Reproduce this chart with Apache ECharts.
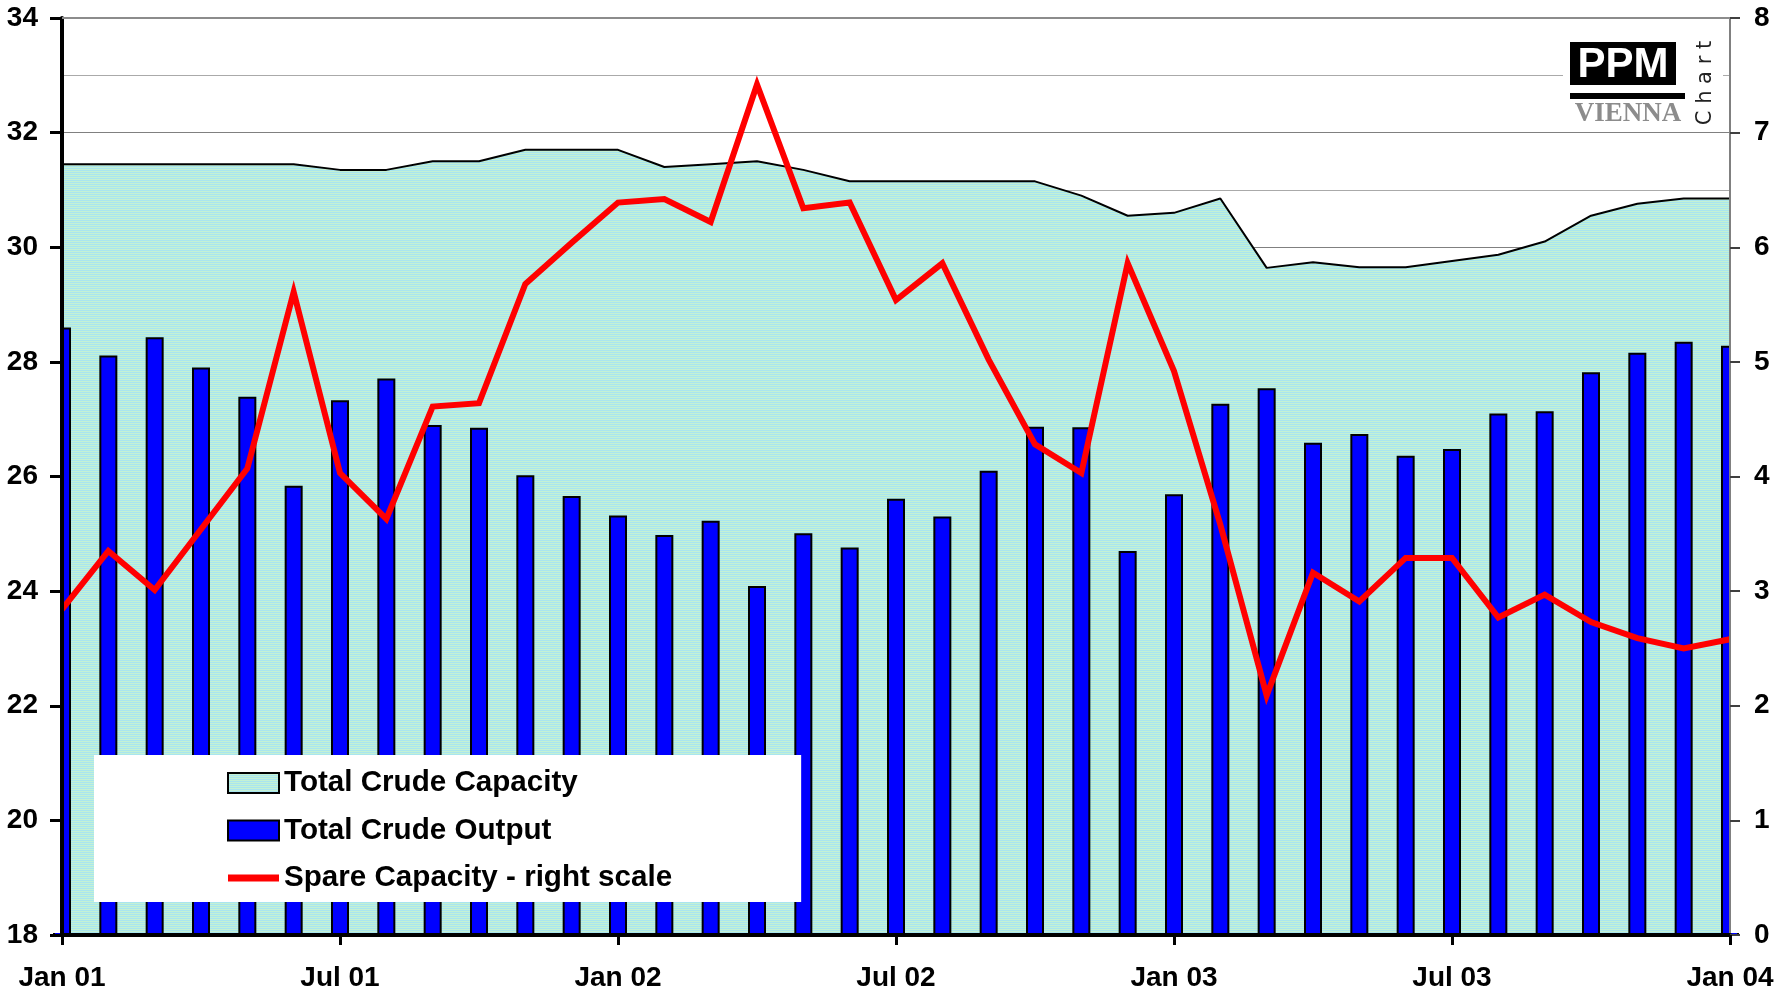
<!DOCTYPE html>
<html>
<head>
<meta charset="utf-8">
<script src="https://cdn.jsdelivr.net/npm/echarts@6/dist/echarts.min.js"></script>
<style>
  html, body { margin: 0; padding: 0; background: #fff; }
  #chart { width: 1780px; height: 992px; }
</style>
</head>
<body>
<div id="chart"></div>
<script>
// monthly points, Jan 01 .. Jan 04
const months = [
  "Jan 01", "Feb 01", "Mar 01", "Apr 01", "May 01", "Jun 01",
  "Jul 01", "Aug 01", "Sep 01", "Oct 01", "Nov 01", "Dec 01",
  "Jan 02", "Feb 02", "Mar 02", "Apr 02", "May 02", "Jun 02",
  "Jul 02", "Aug 02", "Sep 02", "Oct 02", "Nov 02", "Dec 02",
  "Jan 03", "Feb 03", "Mar 03", "Apr 03", "May 03", "Jun 03",
  "Jul 03", "Aug 03", "Sep 03", "Oct 03", "Nov 03", "Dec 03",
  "Jan 04"
];

// mb/d, left scale
const capacity = [
  31.45, 31.45, 31.45, 31.45, 31.45, 31.45, 31.35, 31.35, 31.5, 31.5, 31.7, 31.7,
  31.7, 31.4, 31.45, 31.5, 31.35, 31.15, 31.15, 31.15, 31.15, 31.15, 30.9, 30.55,
  30.6, 30.85, 29.64, 29.74, 29.65, 29.65, 29.76, 29.87, 30.1, 30.55, 30.76, 30.85,
  30.85
];

const output = [
  28.6, 28.11, 28.43, 27.9, 27.39, 25.84, 27.33, 27.71, 26.9, 26.85, 26.02, 25.66,
  25.32, 24.98, 25.23, 24.09, 25.01, 24.76, 25.61, 25.3, 26.1, 26.87, 26.86, 24.7,
  25.69, 27.27, 27.54, 26.59, 26.74, 26.36, 26.48, 27.1, 27.14, 27.82, 28.16, 28.35,
  28.28
];

// right scale
const spare = [
  2.84, 3.35, 3.01, 3.54, 4.07, 5.61, 4.03, 3.63, 4.61, 4.64, 5.68, 6.04,
  6.39, 6.42, 6.22, 7.42, 6.34, 6.39, 5.54, 5.86, 5.02, 4.28, 4.03, 5.86,
  4.92, 3.58, 2.09, 3.16, 2.91, 3.29, 3.29, 2.77, 2.97, 2.73, 2.59, 2.5,
  2.58
];

const FONT = "'Liberation Sans', Arial, sans-serif";
const W = 1780, H = 992;
const GRID = { left: 62, right: 50, top: 18, bottom: 57 };

// fine horizontal stripes like the original fill
function stripePattern() {
  const c = document.createElement("canvas");
  c.width = 4;
  c.height = 4;
  const g = c.getContext("2d");
  g.fillStyle = "#a9e5ef";
  g.fillRect(0, 0, 4, 4);
  g.fillStyle = "#c4f1d4";
  g.fillRect(0, 1, 4, 1);
  g.fillRect(0, 3, 4, 1);
  return c;
}
const stripeFill = { image: stripePattern(), repeat: "repeat" };

const chart = echarts.init(document.getElementById("chart"));

const labelStyle = {
  color: "#000",
  fontFamily: FONT,
  fontWeight: "bold",
  fontSize: 28,
};

// bars on a no-gap category axis are not clipped by echarts, so mask the
// half bars that stick out past the left and right axes
const plotBottom = H - GRID.bottom - 2;

chart.setOption({
  animation: false,
  backgroundColor: "#fff",
  grid: GRID,
  legend: {
    left: 94,
    top: 755,
    orient: "vertical",
    backgroundColor: "#fff",
    padding: [13, 129, 9, 133],
    itemWidth: 51,
    itemHeight: 20,
    itemGap: 17.5,
    selectedMode: false,
    textStyle: { color: "#000", fontFamily: FONT, fontWeight: "bold", fontSize: 29.6 },
    data: [
      {
        name: "Total Crude Capacity",
        icon: "rect",
        itemStyle: { color: stripeFill, borderColor: "#000", borderWidth: 2 },
      },
      {
        name: "Total Crude Output",
        icon: "rect",
        itemStyle: { color: "#0000ff", borderColor: "#000", borderWidth: 2 },
      },
      {
        name: "Spare Capacity - right scale",
        icon: "path://M0,0H51V7H0Z",
        itemStyle: { color: "#ff0000", borderWidth: 0 },
      },
    ],
  },
  xAxis: [
    {
      type: "category",
      data: months,
      boundaryGap: false,
      zlevel: 1,
      axisLine: { lineStyle: { color: "#000", width: 4 } },
      axisTick: { interval: 5, length: 10, lineStyle: { color: "#000", width: 3 } },
      axisLabel: { ...labelStyle, interval: 5, margin: 29 },
      splitLine: { show: false },
    },
    {
      // top border line
      type: "category",
      data: months,
      boundaryGap: false,
      position: "top",
      zlevel: 1,
      axisLine: { lineStyle: { color: "#8c8c8c", width: 2 } },
      axisTick: { show: false },
      axisLabel: { show: false },
      splitLine: { show: false },
    },
  ],
  yAxis: [
    {
      // gridlines only, sits under the series
      type: "value",
      min: 18,
      max: 34,
      interval: 2,
      axisLine: { show: false },
      axisTick: { show: false },
      axisLabel: { show: false },
      splitLine: { lineStyle: { color: "#808080", width: 1 } },
      minorTick: { show: false, splitNumber: 2 },
      minorSplitLine: { show: true, lineStyle: { color: "#aaaaaa", width: 1 } },
    },
    {
      type: "value",
      position: "right",
      min: 0,
      max: 8,
      interval: 1,
      zlevel: 1,
      axisLine: { show: true, lineStyle: { color: "#808080", width: 2 } },
      axisTick: { show: true, length: 10, lineStyle: { color: "#404040", width: 2 } },
      axisLabel: { ...labelStyle, margin: 24 },
      splitLine: { show: false },
    },
    {
      // visible left axis, drawn above the area
      type: "value",
      position: "left",
      min: 18,
      max: 34,
      interval: 2,
      zlevel: 1,
      axisLine: { show: true, lineStyle: { color: "#000", width: 4 } },
      axisTick: { show: true, length: 12, lineStyle: { color: "#000", width: 3 } },
      axisLabel: { ...labelStyle, margin: 24 },
      splitLine: { show: false },
    },
  ],
  series: [
    {
      name: "Total Crude Capacity",
      type: "line",
      data: capacity,
      symbol: "none",
      itemStyle: { color: "#000" },
      lineStyle: { color: "#000", width: 2 },
      areaStyle: { color: stripeFill, opacity: 1, origin: "start" },
      z: 1,
    },
    {
      name: "Total Crude Output",
      type: "bar",
      data: output,
      barWidth: 18,
      itemStyle: { color: "#0000ff", borderColor: "#000", borderWidth: 2 },
      z: 2,
    },
    {
      name: "Spare Capacity - right scale",
      type: "line",
      yAxisIndex: 1,
      data: spare,
      symbol: "none",
      itemStyle: { color: "#ff0000" },
      lineStyle: { color: "#ff0000", width: 6, join: "miter" },
      z: 3,
    },
  ],
  graphic: [
    { type: "rect", shape: { x: 0, y: 0, width: GRID.left - 2, height: plotBottom }, style: { fill: "#fff" }, z: 5 },
    { type: "rect", shape: { x: W - GRID.right + 1, y: 0, width: GRID.right, height: plotBottom }, style: { fill: "#fff" }, z: 5 },
    // logo
    { type: "rect", shape: { x: 1563, y: 36, width: 160, height: 92 }, style: { fill: "#fff" }, z: 100 },
    { type: "rect", shape: { x: 1570, y: 42, width: 106, height: 43 }, style: { fill: "#000" }, z: 101 },
    {
      type: "text", x: 1623, y: 65, z: 102,
      style: { text: "PPM", fill: "#fff", fontFamily: FONT, fontWeight: "bold", fontSize: 42, align: "center", verticalAlign: "middle" },
    },
    { type: "rect", shape: { x: 1570, y: 93, width: 115, height: 6 }, style: { fill: "#000" }, z: 101 },
    {
      type: "text", x: 1628, y: 114, z: 101,
      style: { text: "VIENNA", fill: "#8c8c8c", fontFamily: "'Liberation Serif', serif", fontWeight: "bold", fontSize: 27, align: "center", verticalAlign: "middle" },
    },
    {
      type: "text", x: 1706, y: 83, rotation: Math.PI / 2, z: 101,
      style: { text: "C h a r t", fill: "#222", fontFamily: "'DejaVu Sans', sans-serif", fontSize: 21, align: "center", verticalAlign: "middle" },
    },
  ],
});
</script>
</body>
</html>
